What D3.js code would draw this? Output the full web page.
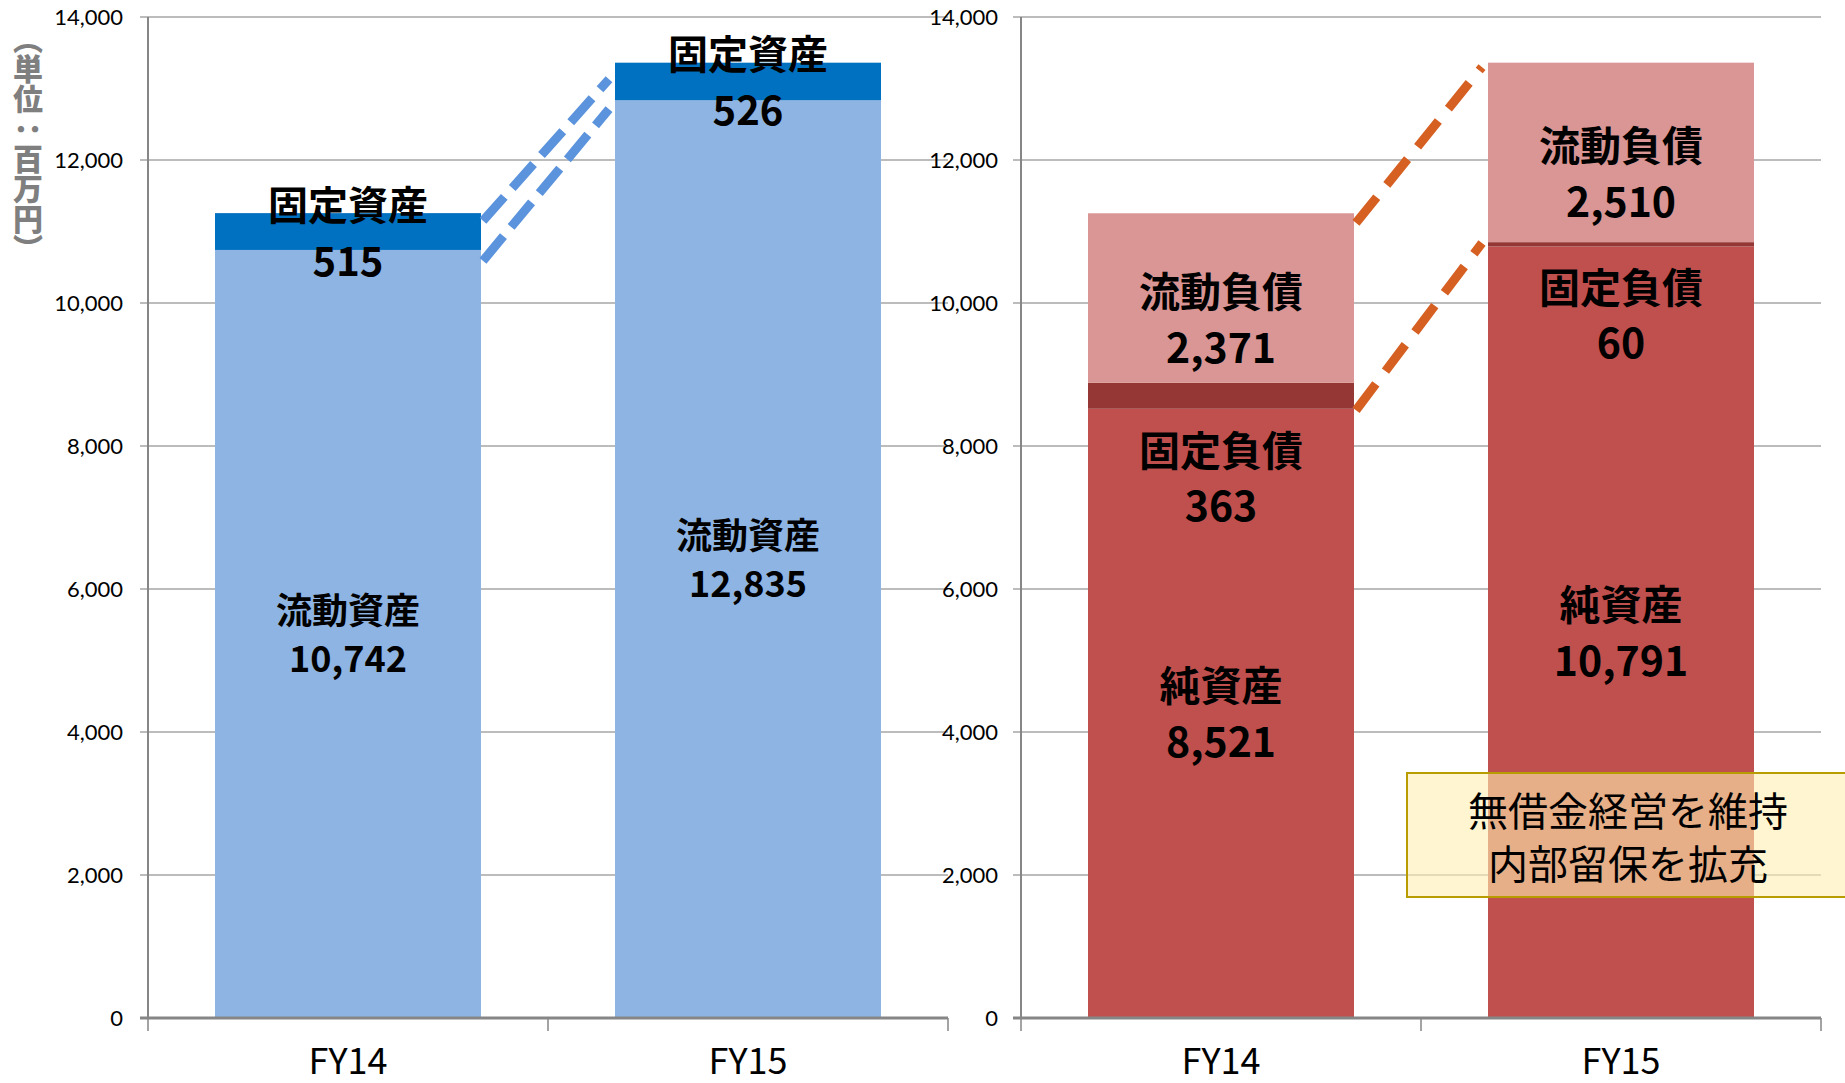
<!DOCTYPE html>
<html>
<head>
<meta charset="utf-8">
<script src="https://cdn.jsdelivr.net/npm/d3@7"></script>
<style>
body { margin: 0; background: #fff; }
</style>
</head>
<body>
<script>
// categories
var years = ["FY14", "FY15"];
// assets (left panel)
var currentAssets = [10742, 12835];
var fixedAssets = [515, 526];
// liabilities + equity (right panel)
var netAssets = [8521, 10791];
var fixedLiab = [363, 60];
var currentLiab = [2371, 2510];
// y ticks
var yTicks = [0, 2000, 4000, 6000, 8000, 10000, 12000, 14000];
// dashed connector lines, value at FY14 right edge -> value at FY15 left edge
var blueLinks = [[11150, 13130], [10590, 12710]];
var orangeLinks = [[11120, 13300], [8500, 10840]];
var noteLines = ["無借金経営を維持", "内部留保を拡充"];

var W = 1845, H = 1083;
var jp = "'Noto Sans CJK JP', sans-serif";
var fmt = d3.format(",");

var svg = d3.select("body").append("svg")
    .attr("width", W).attr("height", H);

var y = d3.scaleLinear().domain([0, 14000]).range([1018, 17]);

function drawPanel(x0, x1, labelX) {
    var x = d3.scaleBand().domain(years).range([x0, x1]).padding(0);
    var g = svg.append("g");

    // gridlines
    g.selectAll("line.grid").data(yTicks.slice(1)).enter().append("line")
        .attr("x1", x0 - 8).attr("x2", x1)
        .attr("y1", function (d) { return y(d); })
        .attr("y2", function (d) { return y(d); })
        .attr("stroke", "#a6a6a6").attr("stroke-width", 1.5);

    // tick labels
    g.selectAll("text.tick").data(yTicks).enter().append("text")
        .attr("x", labelX).attr("y", function (d) { return y(d); })
        .attr("dy", "0.36em")
        .attr("text-anchor", "end")
        .style("font-family", "Lato, sans-serif")
        .style("font-size", "22px")
        .text(function (d) { return fmt(d); });

    var bw = x.bandwidth() * 0.665;
    var bx = function (d) { return x(d) + (x.bandwidth() - bw) / 2; };
    return {x: x, g: g, bw: bw, bx: bx};
}

function drawAxes(p, x0, x1) {
    var g = p.g;
    // y axis line
    g.append("line").attr("x1", x0).attr("x2", x0).attr("y1", y(14000)).attr("y2", y(0))
        .attr("stroke", "#868686").attr("stroke-width", 2);
    // x axis with category ticks
    var xAxis = d3.axisBottom(p.x).tickSize(0).tickPadding(30);
    var ax = g.append("g").attr("transform", "translate(0," + y(0) + ")").call(xAxis);
    ax.select(".domain").remove();
    ax.selectAll("text")
        .style("font-family", jp)
        .style("font-size", "36px")
        .attr("fill", "#000");
    g.append("line").attr("x1", x0 - 8).attr("x2", x1).attr("y1", y(0)).attr("y2", y(0))
        .attr("stroke", "#868686").attr("stroke-width", 3);
    var edges = [x0].concat(years.map(function (d) { return p.x(d) + p.x.bandwidth(); }));
    g.selectAll("line.ctick").data(edges).enter().append("line")
        .attr("x1", function (d) { return d; }).attr("x2", function (d) { return d; })
        .attr("y1", y(0)).attr("y2", y(0) + 13)
        .attr("stroke", "#868686").attr("stroke-width", 1.5);
}

function stackRects(p, layers) {
    // layers: [{values, color}] bottom to top
    years.forEach(function (yr, i) {
        var base = 0;
        layers.forEach(function (L) {
            var v = L.values[i];
            p.g.append("rect")
                .attr("x", p.bx(yr)).attr("width", p.bw)
                .attr("y", y(base + v)).attr("height", y(base) - y(base + v))
                .attr("fill", L.color);
            base += v;
        });
    });
}

function label(g, cx, cy, txt, size) {
    g.append("text").attr("x", cx).attr("y", cy).attr("dy", "0.36em")
        .attr("text-anchor", "middle")
        .style("font-family", jp).style("font-weight", "bold")
        .style("font-size", size + "px")
        .text(txt);
}

function dashLinks(p, links, color, dash) {
    links.forEach(function (L) {
        p.g.append("line")
            .attr("x1", p.bx(years[0]) + p.bw + 2).attr("y1", y(L[0]))
            .attr("x2", p.bx(years[1]) - 6).attr("y2", y(L[1]))
            .attr("stroke", color).attr("stroke-width", 9)
            .attr("stroke-dasharray", dash);
    });
}

// ---------- left panel: assets ----------
var left = drawPanel(148, 948, 123);
stackRects(left, [
    {values: currentAssets, color: "#8eb4e3"},
    {values: fixedAssets, color: "#0070c0"}
]);
dashLinks(left, blueLinks, "#5b93dd", "32,12");
drawAxes(left, 148, 948);

years.forEach(function (yr, i) {
    var cx = left.bx(yr) + left.bw / 2;
    var mid = y(currentAssets[i] / 2);
    label(left.g, cx, mid - 23, "流動資産", 36);
    label(left.g, cx, mid + 25, fmt(currentAssets[i]), 36);
    var top = y(currentAssets[i] + fixedAssets[i]);
    label(left.g, cx, top - 8, "固定資産", 40);
    label(left.g, cx, top + 48, fmt(fixedAssets[i]), 40);
});

// ---------- right panel: liabilities / net assets ----------
var right = drawPanel(1021, 1821, 998);
stackRects(right, [
    {values: netAssets, color: "#c0504d"},
    {values: fixedLiab, color: "#953735"},
    {values: currentLiab, color: "#d99694"}
]);
dashLinks(right, orangeLinks, "#d65f22", "33,16");
drawAxes(right, 1021, 1821);

years.forEach(function (yr, i) {
    var cx = right.bx(yr) + right.bw / 2;
    var mid = y(netAssets[i] / 2);
    label(right.g, cx, mid - 27, "純資産", 41);
    label(right.g, cx, mid + 29, fmt(netAssets[i]), 41);
    var fb = y(netAssets[i]);
    label(right.g, cx, fb + 42, "固定負債", 41);
    label(right.g, cx, fb + 97, fmt(fixedLiab[i]), 41);
    var lo = netAssets[i] + fixedLiab[i];
    var cm = y(lo + currentLiab[i] / 2);
    label(right.g, cx, cm - 6, "流動負債", 41);
    label(right.g, cx, cm + 50, fmt(currentLiab[i]), 41);
});

// note box
var note = svg.append("g");
note.append("rect").attr("x", 1407).attr("y", 773).attr("width", 450).attr("height", 124)
    .attr("fill", "#ffefb0").attr("fill-opacity", 0.6)
    .attr("stroke", "#b89c00").attr("stroke-width", 2);
noteLines.forEach(function (t, i) {
    note.append("text").attr("x", 1628).attr("y", 812 + i * 53).attr("dy", "0.36em")
        .attr("text-anchor", "middle")
        .style("font-family", jp).style("font-size", "40px")
        .text(t);
});

// unit title
svg.append("text")
    .attr("x", 28).attr("y", 24)
    .style("writing-mode", "vertical-rl")
    .style("font-family", jp).style("font-weight", "900")
    .style("font-size", "30px").attr("fill", "#7f7f7f")
    .text("（単位：百万円）");
</script>
</body>
</html>
